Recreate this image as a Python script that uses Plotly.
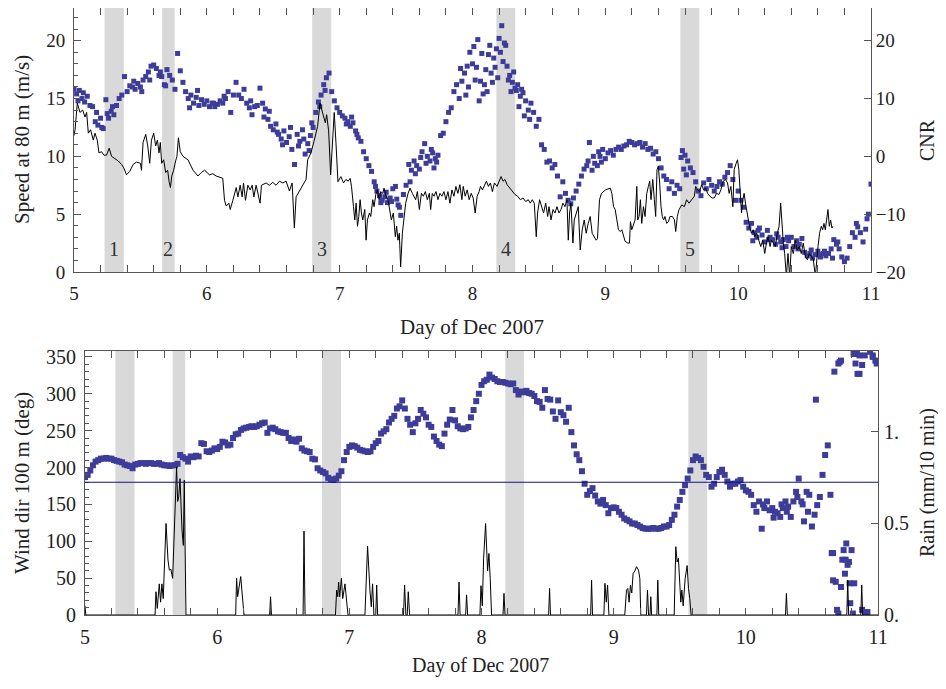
import numpy as np
import plotly.graph_objects as go

FONT = "Liberation Serif"

# ---------------- data ----------------
day_ticks = [5, 6, 7, 8, 9, 10, 11]
speed_t0, speed_dt = 5.0, 0.02

# lidar wind speed at 80 m (m/s), one value per 0.02 day from day 5.00 to 11.00
speed_80m = [
    15.8, 15.4, 15.7, 15.0, 14.7, 15.2, 14.4, 14.3, 13.0, 12.7,
    13.3, 12.4, 14.9, 13.3, 13.9, 13.6, 14.4, 15.0, 15.3, 16.9,
    15.6, 16.1, 16.0, 15.8, 16.3, 16.0, 16.6, 16.9, 17.3, 17.8,
    17.9, 17.6, 17.0, 16.9, 16.2, 17.5, 17.0, 16.6, 15.8, 18.9,
    17.4, 16.4, 15.6, 15.0, 15.3, 14.6, 15.1, 14.4, 14.9, 14.5,
    14.8, 14.3, 14.6, 14.3, 14.5, 14.8, 14.6, 15.0, 15.6, 13.8,
    15.3, 16.4, 15.3, 15.0, 15.8, 14.6, 14.2, 13.6, 14.3, 14.4,
    15.9, 14.6, 14.1, 13.2, 12.6, 12.3, 12.8, 11.9, 11.5, 12.2,
    11.2, 11.7, 10.6, 9.3, 11.9, 11.3, 12.3, 10.2, 11.1, 11.8,
    12.5, 13.8, 14.7, 15.3, 16.2, 16.8, 17.2, 15.6, 14.8, 14.2,
    13.8, 13.5, 13.3, 13.0, 12.6, 12.9, 12.2, 11.6, 11.3, 10.4,
    9.8, 9.2, 8.7, 7.8, 7.0, 6.6, 6.2, 6.5, 6.0, 6.4,
    7.2, 7.4, 5.8, 4.9, 6.7, 7.5, 9.3, 8.8, 9.6, 9.2,
    8.9, 10.4, 11.1, 10.0, 9.6, 10.3, 9.8, 10.1, 11.8, 12.0,
    13.0, 13.8, 14.2, 15.6, 16.2, 15.0, 16.5, 17.2, 17.8, 19.0,
    18.0, 16.6, 20.1, 16.5, 15.4, 17.5, 18.8, 17.2, 18.5, 19.3,
    20.2, 21.3, 19.8, 17.8, 17.0, 16.4, 15.9, 16.2, 15.2, 15.5,
    14.8, 14.0, 14.6, 13.8, 12.6, 13.2, 11.0, 10.6, 9.5, 9.6,
    9.0, 9.3, 8.3, 6.5, 7.8, 6.8, 6.2, 5.9, 6.4, 7.0,
    7.6, 8.3, 8.9, 9.2, 11.2, 8.8, 9.4, 9.2, 10.0, 10.6,
    9.8, 10.3, 10.5, 10.1, 10.6, 10.8, 10.6, 10.9, 11.0, 11.3,
    11.2, 11.0, 11.1, 11.2, 10.8, 11.1, 10.6, 10.7, 10.2, 10.4,
    9.8, 9.0, 8.3, 8.0, 7.2, 7.8, 6.8, 7.5, 7.2, 10.5,
    10.1, 9.6, 9.0, 8.6, 7.8, 7.0, 6.6, 7.7, 7.2, 8.0,
    7.5, 7.0, 7.4, 7.8, 7.6, 8.2, 8.6, 9.2, 8.0, 6.2,
    7.0, 6.2, 5.6, 4.3, 3.8, 4.2, 3.4, 3.0, 3.8, 3.2,
    2.6, 3.6, 3.0, 2.8, 2.4, 3.0, 2.6, 2.8, 2.2, 2.7,
    3.0, 2.2, 2.7, 2.4, 2.9, 1.7, 1.4, 1.6, 1.2, 1.5,
    1.8, 1.3, 1.6, 1.4, 1.6, 2.0, 2.8, 2.4, 2.0, 1.3,
    0.9, 1.2, 2.2, 3.4, 3.0, 3.9, 3.4, 2.6, 3.7, 5.0,
    7.6,
]

# additional scattered speed samples (day, m/s)
speed_extra = [
    (5.03, 14.8), (5.07, 15.5), (5.17, 13.8), (5.21, 12.5), (5.25, 13.7), (5.29, 14.3),
    (5.45, 16.5), (5.51, 15.6), (5.57, 16.6), (5.65, 17.3), (5.69, 16.1), (5.87, 14.2),
    (5.93, 15.7), (6.05, 14.6), (6.13, 15.2), (6.33, 14.8), (6.43, 13.4), (6.47, 13.9),
    (6.53, 12.1), (6.57, 11.0), (6.63, 12.5), (6.69, 10.9), (6.73, 11.5), (6.77, 10.5),
    (6.79, 12.9), (6.85, 14.3), (6.89, 15.7), (7.05, 12.8), (7.09, 13.4), (7.13, 11.9),
    (7.27, 7.4), (7.31, 6.0), (7.35, 6.9), (7.39, 6.1), (7.43, 6.3), (7.45, 5.6),
    (7.53, 7.8), (7.57, 8.5), (7.61, 9.9), (7.65, 9.4), (7.69, 10.6), (7.71, 9.0),
    (7.73, 9.5), (7.91, 17.6), (7.95, 15.3), (7.97, 16.0), (8.01, 19.5), (8.03, 17.7),
    (8.05, 14.8), (8.07, 18.9), (8.09, 16.2), (8.11, 15.6), (8.13, 19.6), (8.15, 16.4),
    (8.17, 17.7), (8.19, 16.8), (8.21, 19.0), (8.23, 18.2), (8.25, 19.6), (8.27, 16.6),
    (8.29, 15.6), (8.31, 17.3), (8.33, 15.7), (8.35, 14.3), (8.37, 15.8), (8.39, 13.5),
    (8.43, 13.2), (8.87, 9.6), (8.91, 10.0), (8.95, 10.4), (8.97, 9.5), (9.57, 9.9),
    (9.59, 8.9), (9.61, 8.4), (10.11, 2.7), (10.15, 3.6), (10.23, 2.8), (10.29, 3.3),
    (10.33, 2.1), (10.37, 3.0), (10.45, 2.0), (10.55, 1.9), (10.61, 1.5), (10.65, 1.8),
    (10.71, 1.2), (10.75, 2.6), (10.89, 4.2), (10.97, 4.6),
]

# carrier-to-noise ratio (dB), (day, CNR)
cnr_series = [
    (5.000, 3.6), (5.008, 4.6), (5.025, 9.2), (5.045, 7.6), (5.065, 8.0), (5.083, 6.8),
    (5.095, 7.6), (5.108, 4.0), (5.125, 4.6), (5.145, 2.8), (5.158, 4.0), (5.175, 2.8),
    (5.188, 0.6), (5.208, 0.8), (5.225, 0.2), (5.245, 0.2), (5.265, 1.4), (5.283, 0.0),
    (5.308, -0.4), (5.333, -0.8), (5.358, -1.4), (5.375, -2.0), (5.395, -3.2), (5.420, -2.6),
    (5.445, -1.4), (5.470, -1.0), (5.500, -1.2), (5.508, -2.4), (5.520, 2.4), (5.540, 3.8),
    (5.555, 1.8), (5.570, -1.2), (5.583, 2.8), (5.600, 4.0), (5.615, 1.8), (5.628, 2.8),
    (5.640, 0.6), (5.650, 2.4), (5.660, -1.2), (5.675, -0.6), (5.690, -2.8), (5.705, -2.4),
    (5.716, -4.4), (5.726, -5.4), (5.736, -3.4), (5.750, -2.4), (5.765, -0.8), (5.775, 0.0),
    (5.786, 3.2), (5.800, 0.8), (5.820, 0.0), (5.858, -0.6), (5.896, -2.4), (5.933, -3.4),
    (5.958, -2.8), (5.983, -2.4), (6.020, -3.2), (6.045, -3.0), (6.070, -3.4), (6.095, -3.6),
    (6.120, -3.8), (6.133, -7.6), (6.146, -8.6), (6.166, -8.1), (6.176, -9.2), (6.196, -7.6),
    (6.221, -5.4), (6.234, -7.0), (6.251, -5.0), (6.266, -7.0), (6.276, -4.6), (6.291, -7.6),
    (6.309, -5.0), (6.326, -5.8), (6.341, -5.0), (6.354, -7.0), (6.371, -5.0), (6.401, -8.1),
    (6.411, -5.0), (6.446, -4.6), (6.471, -5.0), (6.496, -4.5), (6.521, -5.0), (6.547, -4.3),
    (6.572, -4.6), (6.597, -4.3), (6.622, -6.0), (6.642, -4.6), (6.659, -12.4), (6.672, -7.0),
    (6.697, -6.0), (6.722, -5.2), (6.747, -4.0), (6.759, -0.6), (6.784, 0.6), (6.809, 2.8),
    (6.834, 5.2), (6.852, 9.2), (6.867, 8.0), (6.877, 7.2), (6.892, 5.8), (6.902, 7.2),
    (6.917, 4.4), (6.932, -3.2), (6.947, 2.8), (6.959, 7.6), (6.972, 2.4), (6.987, -4.4),
    (7.009, -3.5), (7.029, -4.6), (7.047, -4.0), (7.064, -4.3), (7.079, -3.8), (7.089, -5.2),
    (7.104, -8.7), (7.114, -11.0), (7.124, -8.1), (7.134, -12.1), (7.144, -10.4), (7.154, -7.5),
    (7.164, -9.8), (7.174, -11.0), (7.189, -9.2), (7.199, -14.5), (7.209, -11.0), (7.224, -9.8),
    (7.234, -10.4), (7.249, -7.5), (7.259, -8.7), (7.272, -6.6), (7.284, -5.8), (7.297, -7.5),
    (7.309, -6.1), (7.324, -6.4), (7.334, -5.5), (7.349, -6.9), (7.364, -7.5), (7.379, -9.8),
    (7.389, -11.0), (7.404, -9.8), (7.419, -13.9), (7.429, -12.1), (7.439, -14.5), (7.449, -13.3),
    (7.459, -19.1), (7.472, -13.3), (7.484, -10.4), (7.497, -8.1), (7.515, -6.4), (7.530, -5.5),
    (7.547, -6.4), (7.560, -6.9), (7.572, -7.5), (7.585, -6.1), (7.600, -9.2), (7.615, -6.4),
    (7.630, -6.9), (7.645, -6.1), (7.660, -7.5), (7.675, -6.4), (7.685, -9.2), (7.697, -6.4),
    (7.710, -6.9), (7.725, -6.1), (7.740, -7.5), (7.755, -6.4), (7.770, -6.9), (7.785, -6.1),
    (7.800, -7.5), (7.815, -6.1), (7.830, -8.1), (7.845, -5.8), (7.860, -6.9), (7.875, -5.2),
    (7.890, -6.4), (7.905, -4.9), (7.920, -7.5), (7.930, -5.2), (7.945, -6.9), (7.960, -5.8),
    (7.975, -7.5), (7.990, -6.4), (8.005, -7.2), (8.020, -9.8), (8.035, -6.9), (8.050, -6.1),
    (8.060, -5.2), (8.075, -5.8), (8.090, -4.9), (8.105, -4.3), (8.120, -5.2), (8.135, -4.6),
    (8.150, -6.1), (8.165, -4.6), (8.185, -5.2), (8.200, -4.3), (8.215, -3.5), (8.230, -4.3),
    (8.245, -4.0), (8.260, -4.9), (8.280, -5.5), (8.300, -6.1), (8.320, -6.6), (8.340, -6.9),
    (8.360, -7.5), (8.380, -7.2), (8.400, -7.8), (8.420, -7.5), (8.435, -8.1), (8.450, -7.5),
    (8.465, -8.1), (8.480, -13.9), (8.490, -9.8), (8.505, -7.5), (8.520, -8.7), (8.535, -9.8),
    (8.551, -8.1), (8.566, -10.4), (8.576, -8.7), (8.591, -11.0), (8.606, -9.2), (8.621, -9.8),
    (8.636, -8.7), (8.651, -9.8), (8.666, -9.2), (8.681, -8.1), (8.696, -8.7), (8.711, -7.5),
    (8.721, -14.5), (8.731, -9.8), (8.741, -8.1), (8.756, -15.0), (8.766, -11.0), (8.781, -9.8),
    (8.796, -8.7), (8.811, -16.2), (8.826, -12.7), (8.841, -11.0), (8.856, -13.3), (8.871, -11.6),
    (8.886, -10.4), (8.901, -13.3), (8.916, -13.9), (8.931, -14.5), (8.941, -14.2), (8.956, -7.5),
    (8.971, -6.4), (9.001, -5.8), (9.037, -5.5), (9.049, -6.4), (9.062, -8.7), (9.074, -9.2),
    (9.087, -11.0), (9.099, -12.7), (9.112, -13.0), (9.124, -12.7), (9.149, -14.7), (9.169, -15.0),
    (9.182, -15.0), (9.189, -11.3), (9.199, -12.7), (9.212, -11.6), (9.224, -11.0), (9.237, -5.2),
    (9.244, -11.0), (9.254, -10.4), (9.264, -7.5), (9.274, -11.6), (9.287, -8.7), (9.299, -10.4),
    (9.312, -6.4), (9.324, -5.2), (9.334, -4.3), (9.344, -7.5), (9.357, -4.0), (9.369, -7.5),
    (9.379, -10.4), (9.389, -2.3), (9.399, -1.7), (9.409, -4.6), (9.419, -8.7), (9.429, -10.4),
    (9.439, -11.0), (9.449, -10.4), (9.462, -11.6), (9.475, -11.3), (9.487, -10.4), (9.505, -10.4),
    (9.520, -11.0), (9.530, -13.0), (9.542, -10.4), (9.555, -9.2), (9.575, -8.4), (9.595, -8.7),
    (9.612, -7.5), (9.630, -8.1), (9.650, -7.5), (9.670, -6.9), (9.680, -5.2), (9.695, -5.8),
    (9.710, -6.1), (9.725, -4.9), (9.740, -5.8), (9.755, -5.5), (9.770, -6.4), (9.787, -6.9),
    (9.805, -7.2), (9.820, -7.2), (9.837, -6.4), (9.855, -6.6), (9.870, -5.8), (9.887, -4.3),
    (9.905, -4.0), (9.920, -4.6), (9.932, -6.4), (9.945, -5.2), (9.960, -8.7), (9.970, -2.3),
    (9.985, -1.2), (9.995, -0.6), (10.005, -2.3), (10.015, -7.5), (10.025, -9.8), (10.035, -7.5),
    (10.045, -6.4), (10.055, -8.1), (10.070, -10.4), (10.085, -12.1), (10.100, -13.3), (10.113, -12.7),
    (10.125, -13.9), (10.140, -13.3), (10.155, -14.5), (10.170, -15.6), (10.185, -14.5), (10.200, -16.8),
    (10.213, -15.0), (10.225, -13.9), (10.240, -15.6), (10.250, -14.5), (10.265, -15.0), (10.280, -15.6),
    (10.295, -13.3), (10.308, -12.1), (10.320, -8.1), (10.330, -12.1), (10.340, -15.0), (10.350, -16.8),
    (10.363, -20.8), (10.375, -16.8), (10.388, -20.8), (10.400, -15.6), (10.415, -16.8), (10.430, -14.5),
    (10.445, -16.2), (10.460, -15.6), (10.475, -16.8), (10.490, -15.0), (10.506, -17.3), (10.521, -17.9),
    (10.536, -16.8), (10.551, -17.3), (10.566, -17.9), (10.581, -20.8), (10.591, -17.9), (10.601, -15.6),
    (10.613, -13.3), (10.626, -12.1), (10.636, -12.7), (10.646, -11.6), (10.656, -12.7), (10.666, -11.0),
    (10.676, -9.2), (10.686, -12.1), (10.696, -11.0), (10.706, -12.4), (10.713, -12.1),
]

# wind direction at 100 m (deg), one value per 0.02 day from day 5.00 to 11.00
wdir_100m = [
    187, 190, 196, 203, 208, 210, 212, 212, 213, 212,
    212, 210, 209, 208, 207, 204, 203, 202, 199, 204,
    205, 206, 206, 205, 206, 206, 205, 205, 206, 204,
    203, 203, 202, 203, 203, 205, 217, 214, 212, 208,
    215, 214, 216, 215, 233, 232, 222, 221, 223, 226,
    225, 228, 235, 234, 230, 231, 240, 245, 246, 251,
    253, 254, 255, 256, 255, 256, 258, 260, 261, 247,
    253, 254, 252, 249, 248, 247, 247, 240, 236, 238,
    235, 239, 226, 223, 222, 221, 212, 211, 199, 196,
    194, 192, 186, 184, 183, 185, 189, 195, 210, 221,
    228, 230, 229, 227, 224, 223, 222, 221, 222, 228,
    233, 236, 246, 249, 252, 261, 266, 270, 280, 283,
    291, 280, 266, 258, 248, 260, 266, 278, 273, 268,
    258, 255, 242, 236, 231, 229, 246, 258, 265, 278,
    264, 256, 253, 252, 253, 255, 268, 278, 290, 300,
    312, 317, 319, 326, 322, 320, 317, 316, 316, 315,
    314, 313, 314, 305, 299, 303, 302, 304, 301, 300,
    297, 290, 289, 281, 305, 293, 292, 276, 266, 291,
    275, 271, 262, 281, 248, 230, 218, 210, 195, 178,
    163, 168, 172, 162, 154, 151, 156, 149, 138, 145,
    146, 145, 140, 136, 131, 129, 127, 124, 124, 122,
    120, 118, 117, 117, 117, 118, 117, 117, 118, 120,
    120, 122, 129, 136, 147, 156, 167, 176, 185, 196,
    210, 215, 213, 210, 201, 190, 187, 174, 178, 187,
    194, 197, 190, 181, 174, 178, 178, 181, 183, 174,
    169, 167, 163, 149, 140, 154, 117, 145, 154, 142,
    145, 140, 138, 133, 145, 154, 147, 133, 154, 167,
    185, 154, 127, 167, 163, 120, 136, 149, 160, 190,
    217, 230, 163, 84, 45, 341, 345, 88, 97, 72,
    88, 43, 354, 327, 339, 352, 4, 357, 352, 345,
    343,
]

# additional scattered wind-direction samples (day, deg)
wdir_extra = [
    (10.13, 150), (10.21, 132), (10.27, 150), (10.31, 140), (10.39, 160), (10.43, 150),
    (10.47, 140), (10.53, 292), (10.65, 84), (10.66, 47), (10.67, 330), (10.69, 7),
    (10.70, 2), (10.71, 343), (10.72, 38), (10.73, 75), (10.75, 56), (10.755, 75),
    (10.77, 68), (10.785, 43), (10.79, 16), (10.81, 2), (10.815, 354), (10.83, 341),
    (10.845, 327), (10.86, 352), (10.88, 7), (10.90, 2), (10.96, 350), (10.99, 341),
]

# rain (mm / 10 min), (day, amount)
rain_series = [
    (5.000, 0.05), (5.006, 0.0), (5.530, 0.0), (5.537, 0.127), (5.547, 0.036), (5.562, 0.17),
    (5.572, 0.07), (5.582, 0.17), (5.592, 0.09), (5.613, 0.50), (5.628, 0.30), (5.638, 0.245),
    (5.650, 0.25), (5.663, 0.20), (5.693, 0.81), (5.701, 0.62), (5.709, 0.645), (5.719, 0.745),
    (5.734, 0.464), (5.744, 0.38), (5.751, 0.736), (5.764, 0.0), (6.140, 0.0), (6.147, 0.20),
    (6.155, 0.10), (6.165, 0.16), (6.178, 0.21), (6.203, 0.0), (6.397, 0.0), (6.404, 0.10),
    (6.411, 0.0), (6.650, 0.0), (6.657, 0.458), (6.665, 0.0), (6.895, 0.0), (6.904, 0.136),
    (6.912, 0.10), (6.919, 0.18), (6.927, 0.10), (6.940, 0.20), (6.950, 0.09), (6.967, 0.17),
    (6.990, 0.0), (7.118, 0.0), (7.138, 0.376), (7.156, 0.136), (7.166, 0.045), (7.176, 0.17),
    (7.186, 0.0), (7.200, 0.0), (7.207, 0.164), (7.214, 0.0), (7.410, 0.0), (7.418, 0.164),
    (7.428, 0.0), (7.438, 0.0), (7.446, 0.127), (7.456, 0.0), (7.822, 0.0), (7.830, 0.18),
    (7.838, 0.0), (7.880, 0.0), (7.887, 0.11), (7.895, 0.0), (7.988, 0.0), (7.996, 0.16),
    (8.006, 0.05), (8.016, 0.31), (8.031, 0.50), (8.046, 0.24), (8.056, 0.336), (8.066, 0.20),
    (8.076, 0.0), (8.163, 0.0), (8.170, 0.118), (8.178, 0.0), (8.508, 0.0), (8.515, 0.145),
    (8.522, 0.0), (8.826, 0.0), (8.833, 0.19), (8.840, 0.0), (8.926, 0.0), (8.934, 0.173),
    (8.944, 0.07), (8.954, 0.164), (8.964, 0.0), (9.084, 0.0), (9.097, 0.136), (9.107, 0.145),
    (9.117, 0.07), (9.127, 0.164), (9.137, 0.12), (9.147, 0.227), (9.160, 0.24), (9.173, 0.264),
    (9.188, 0.245), (9.198, 0.20), (9.205, 0.0), (9.248, 0.0), (9.256, 0.136), (9.264, 0.0),
    (9.275, 0.0), (9.281, 0.10), (9.287, 0.0), (9.327, 0.0), (9.334, 0.19), (9.341, 0.0),
    (9.458, 0.0), (9.470, 0.373), (9.480, 0.29), (9.490, 0.31), (9.500, 0.20), (9.508, 0.07),
    (9.516, 0.136), (9.526, 0.05), (9.541, 0.20), (9.556, 0.27), (9.566, 0.145), (9.576, 0.09),
    (9.586, 0.0), (10.300, 0.0), (10.307, 0.118), (10.314, 0.0), (10.764, 0.0), (10.771, 0.19),
    (10.778, 0.0), (10.870, 0.0), (10.877, 0.164), (10.884, 0.0), (11.000, 0.0),
]

# shaded event periods (day) and their labels
events = [(5.23, 5.375), (5.663, 5.758), (6.793, 6.937), (8.18, 8.322), (9.565, 9.708)]
event_labels = ["1", "2", "3", "4", "5"]
event_label_speed = 2.0
south_dir = 180

# axis ranges
speed_range = [0, 22.83]
cnr_range = [-20, 25.65]
wdir_range = [0, 358]
rain_range = [0, 1.442]

# ---------------- figure ----------------
# the page body adds an 8 px margin, so the figure is a bit smaller than the window
WIN_W, WIN_H = 946, 689
OFF = 8
W, H = WIN_W - 2 * OFF, WIN_H - 2 * OFF
BLUE = "#3d3d99"
AXC = "#555555"
TXT = "#222222"

t_speed = speed_t0 + speed_dt * np.arange(len(speed_80m))
t_wdir = speed_t0 + speed_dt * np.arange(len(wdir_100m))

fig = go.Figure()
mk = dict(symbol="square", size=5, color=BLUE, line=dict(width=0))
mk2 = dict(symbol="square", size=6, color=BLUE, line=dict(width=0))

fig.add_trace(go.Scatter(x=t_speed, y=speed_80m, mode="markers", marker=mk,
                         xaxis="x", yaxis="y"))
fig.add_trace(go.Scatter(x=[p[0] for p in speed_extra], y=[p[1] for p in speed_extra],
                         mode="markers", marker=mk, xaxis="x", yaxis="y"))
fig.add_trace(go.Scatter(x=[p[0] for p in cnr_series], y=[p[1] for p in cnr_series],
                         mode="lines", line=dict(color="black", width=1),
                         xaxis="x", yaxis="y2"))
fig.add_trace(go.Scatter(x=t_wdir, y=wdir_100m, mode="markers", marker=mk2,
                         xaxis="x2", yaxis="y3"))
fig.add_trace(go.Scatter(x=[p[0] for p in wdir_extra], y=[p[1] for p in wdir_extra],
                         mode="markers", marker=mk2, xaxis="x2", yaxis="y3"))
fig.add_trace(go.Scatter(x=[p[0] for p in rain_series], y=[p[1] for p in rain_series],
                         mode="lines", line=dict(color="black", width=1),
                         xaxis="x2", yaxis="y4"))


def px(x):
    return min(1.0, max(0.0, (x - OFF) / W))


def py(y):
    return min(1.0, max(0.0, 1 - (y - OFF) / H))


def axis(**kw):
    base = dict(showline=True, linecolor=AXC, linewidth=1, ticks="inside",
                tickcolor=AXC, ticklen=7, tickwidth=1, showgrid=False,
                zeroline=False, automargin=False,
                tickfont=dict(family=FONT, size=19, color=TXT))
    base.update(kw)
    return base


top_dom_y = [py(272), py(8)]
bot_dom_y = [py(615), py(351)]
top_dom_x = [px(74), px(871)]
bot_dom_x = [px(85), px(878)]

minor_x = dict(dtick=0.2, tick0=5, ticklen=4, ticks="inside", tickcolor=AXC, showgrid=False)

fig.update_layout(
    width=W, height=H, autosize=False,
    margin=dict(l=0, r=0, t=0, b=0),
    paper_bgcolor="white", plot_bgcolor="white",
    showlegend=False,
    font=dict(family=FONT, color=TXT),
    xaxis=axis(domain=top_dom_x, anchor="y", range=[5, 11], tick0=5, dtick=1,
               mirror="allticks", minor=minor_x, ticklabelstandoff=4),
    yaxis=axis(domain=top_dom_y, anchor="x", range=speed_range, tick0=0, dtick=5,
               minor=dict(dtick=1, ticklen=4, ticks="inside", tickcolor=AXC, showgrid=False),
               ticklabelstandoff=4),
    yaxis2=axis(overlaying="y", anchor="x", side="right", range=cnr_range,
                tick0=-20, dtick=10, ticklabelstandoff=0),
    xaxis2=axis(domain=bot_dom_x, anchor="y3", range=[5, 11], tick0=5, dtick=1,
                mirror="allticks", minor=minor_x, ticklabelstandoff=4,
                tickfont=dict(family=FONT, size=20, color=TXT)),
    yaxis3=axis(domain=bot_dom_y, anchor="x2", range=wdir_range, tick0=0, dtick=50,
                minor=dict(dtick=10, ticklen=4, ticks="inside", tickcolor=AXC, showgrid=False),
                ticklabelstandoff=4, tickfont=dict(family=FONT, size=20, color=TXT)),
    yaxis4=axis(overlaying="y3", anchor="x2", side="right", range=rain_range,
                tickmode="array", tickvals=[0, 0.5, 1], ticktext=["0.", "0.5", "1."],
                ticklabelstandoff=1, tickfont=dict(family=FONT, size=20, color=TXT)),
)

shapes = []
for (a, b) in events:
    shapes.append(dict(type="rect", xref="x", yref="y domain", x0=a, x1=b, y0=0, y1=1,
                       fillcolor="#d9d9d9", line=dict(width=0), layer="below"))
    shapes.append(dict(type="rect", xref="x2", yref="y3 domain", x0=a, x1=b, y0=0, y1=1,
                       fillcolor="#d9d9d9", line=dict(width=0), layer="below"))
shapes.append(dict(type="line", xref="x2 domain", yref="y3", x0=0, x1=1,
                   y0=south_dir, y1=south_dir, line=dict(color="#10108a", width=1.2)))
fig.update_layout(shapes=shapes)

ann = []
for (a, b), lab in zip(events, event_labels):
    ann.append(dict(x=(a + b) / 2, y=event_label_speed, xref="x", yref="y", text=lab,
                    xanchor="center", yanchor="middle",
                    showarrow=False, font=dict(family=FONT, size=20, color="#333333")))


def title(x, y, text, angle=0, size=21):
    return dict(x=px(x), y=py(y), xref="paper", yref="paper", text=text,
                textangle=angle, xanchor="center", yanchor="middle",
                showarrow=False, font=dict(family=FONT, size=size, color=TXT))


ann += [
    title(22, 140, "Speed at 80 m (m/s)", -90),
    title(927, 140, "CNR", -90, 20),
    title(472, 327, "Day of Dec 2007"),
    title(22, 483, "Wind dir 100 m (deg)", -90),
    title(927, 483, "Rain (mm/10 min)", -90, 20),
    title(480, 665, "Day of Dec 2007", 0, 20),
]
fig.update_layout(annotations=ann)

fig.write_html("out.html")
